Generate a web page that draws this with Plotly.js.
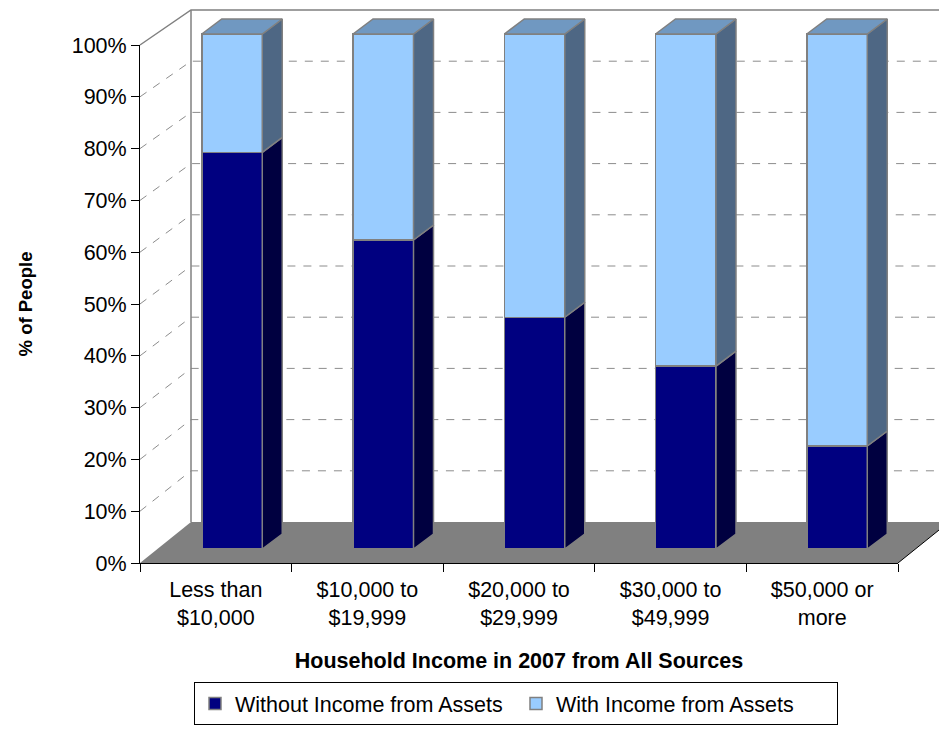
<!DOCTYPE html>
<html>
<head>
<meta charset="utf-8">
<script src="https://cdn.plot.ly/plotly-3.0.1.min.js"></script>
<style>html,body{margin:0;padding:0;background:#fff;}#chart{width:939px;height:732px;}</style>
</head>
<body>
<div id="chart"></div>
<script>
// ---- data ----
const categories = ['Less than<br>$10,000', '$10,000 to<br>$19,999', '$20,000 to<br>$29,999', '$30,000 to<br>$49,999', '$50,000 or<br>more'];
const withoutAssets = [77, 60, 45, 35.5, 20];
const withAssets = [23, 40, 55, 64.5, 80];
const seriesNames = ['Without Income from Assets', 'With Income from Assets'];
const yTicks = [0, 10, 20, 30, 40, 50, 60, 70, 80, 90, 100];

// ---- geometry (pixels) ----
const W = 939, H = 732;
const px = x => x / W;
const py = y => 1 - y / H;
const xFront = 140, xRightFront = 898, xBack = 191;
const yF0 = 563, yF100 = 45;      // front (axis) scale
const yB0 = 522, yB100 = 10;      // back wall scale
const depthX = xBack - xFront, depthY = yF0 - yB0;
const fY = v => yF0 - (yF0 - yF100) * v / 100;
const bY = v => yB0 - (yB0 - yB100) * v / 100;

// bars subplot scale
const barPitch = 151.25, barCenter0 = 232;
const barY0 = 549, barYPerUnit = 5.15;
const barTopRange = 105;
const bw = 0.2;                       // half width in category units
const dX = 20 / barPitch;             // bar depth in x units
const dY = 15 / barYPerUnit;          // bar depth in y units

const idx = categories.map((c, i) => i);

const colDark = '#000080', colLight = '#99CCFF';
const colDarkSide = '#000040', colLightSide = '#4E6784', colTop = '#7098C1';
const edge = '#808080';

// face polygons built from the data
function sidePoly(lo, hi) {
  const xs = [], ys = [];
  idx.forEach(i => {
    const a = lo[i], b = hi[i];
    xs.push(i + bw, i + bw + dX, i + bw + dX, i + bw, i + bw, null);
    ys.push(a, a + dY, b + dY, b, a, null);
  });
  return {xs, ys};
}
const zeros = idx.map(() => 0);
const totals = idx.map(i => withoutAssets[i] + withAssets[i]);
const darkSide = sidePoly(zeros, withoutAssets);
const lightSide = sidePoly(withoutAssets, totals);
const topX = [], topY = [];
idx.forEach(i => {
  const t = totals[i];
  topX.push(i - bw, i + bw, i + bw + dX, i - bw + dX, i - bw, null);
  topY.push(t, t, t + dY, t + dY, t, null);
});

const font = 'Liberation Sans, Arial, sans-serif';
const fs = 21.5;

const traces = [
  {type: 'scatter', x: categories, y: withoutAssets, xaxis: 'x', yaxis: 'y', mode: 'markers',
   marker: {opacity: 0}, hoverinfo: 'skip', showlegend: false},
  {type: 'bar', name: seriesNames[0], x: idx, y: withoutAssets, xaxis: 'x2', yaxis: 'y2', width: 2 * bw,
   marker: {color: colDark, line: {color: edge, width: 1.5}}, customdata: categories,
   hovertemplate: '%{customdata}: %{y}%<extra></extra>'},
  {type: 'bar', name: seriesNames[1], x: idx, y: withAssets, xaxis: 'x2', yaxis: 'y2', width: 2 * bw,
   marker: {color: colLight, line: {color: edge, width: 1.5}}, customdata: categories,
   hovertemplate: '%{customdata}: %{y}%<extra></extra>'},
  {type: 'scatter', x: darkSide.xs, y: darkSide.ys, xaxis: 'x2', yaxis: 'y2', mode: 'lines', fill: 'toself',
   fillcolor: colDarkSide, line: {color: edge, width: 1.5}, hoverinfo: 'skip', showlegend: false},
  {type: 'scatter', x: lightSide.xs, y: lightSide.ys, xaxis: 'x2', yaxis: 'y2', mode: 'lines', fill: 'toself',
   fillcolor: colLightSide, line: {color: edge, width: 1.5}, hoverinfo: 'skip', showlegend: false},
  {type: 'scatter', x: topX, y: topY, xaxis: 'x2', yaxis: 'y2', mode: 'lines', fill: 'toself',
   fillcolor: colTop, line: {color: edge, width: 1.5}, hoverinfo: 'skip', showlegend: false}
];

// frame shapes: walls, floor, gridlines
const shapes = [];
const P = (x, y) => px(x).toFixed(5) + ',' + py(y).toFixed(5);
shapes.push({type: 'path', xref: 'paper', yref: 'paper', layer: 'below',
  path: 'M' + P(xFront, yF0) + 'L' + P(xRightFront, yF0) + 'L' + P(xRightFront + depthX, yB0) + 'L' + P(xBack, yB0) + 'Z',
  fillcolor: '#808080', line: {width: 0}});
shapes.push({type: 'line', xref: 'paper', yref: 'paper', layer: 'below',
  x0: px(xRightFront), y0: py(yF0), x1: px(xRightFront + depthX), y1: py(yB0), line: {color: '#000', width: 1}});
yTicks.filter(v => v > 0 && v < 100).forEach(v => {
  shapes.push({type: 'path', xref: 'paper', yref: 'paper', layer: 'below',
    path: 'M' + P(xFront, fY(v)) + 'L' + P(xBack, bY(v)) + 'L' + P(W + 20, bY(v)),
    line: {color: '#8c8c8c', width: 1, dash: '8px,8px'}});
});
shapes.push({type: 'path', xref: 'paper', yref: 'paper', layer: 'below',
  path: 'M' + P(xFront, fY(100)) + 'L' + P(xBack, bY(100)) + 'L' + P(W + 20, bY(100)),
  line: {color: '#808080', width: 1.5}});
shapes.push({type: 'line', xref: 'paper', yref: 'paper', layer: 'below',
  x0: px(xBack), y0: py(bY(100)), x1: px(xBack), y1: py(yB0), line: {color: '#808080', width: 1.5}});

const layout = {
  width: W, height: H,
  margin: {l: 0, r: 0, t: 0, b: 0},
  paper_bgcolor: '#fff', plot_bgcolor: 'rgba(0,0,0,0)',
  font: {family: font, color: '#000', size: fs},
  barmode: 'stack',
  showlegend: true,
  legend: {orientation: 'h', x: px(194), y: py(682), xanchor: 'left', yanchor: 'top',
           bordercolor: '#000', borderwidth: 1, font: {family: font, size: fs, color: '#000'},
           traceorder: 'normal', bgcolor: '#fff', entrywidth: 276, entrywidthmode: 'pixels'},
  xaxis: {domain: [px(xFront), px(xRightFront)], anchor: 'y', type: 'category',
          categoryorder: 'array', categoryarray: categories, range: [-0.5, 4.5],
          showline: true, linecolor: '#000', linewidth: 1, ticks: 'outside', ticklen: 8, tickcolor: '#000',
          tickson: 'boundaries', showgrid: false, zeroline: false, fixedrange: true,
          ticklabelstandoff: 7,
          tickfont: {family: font, size: fs, color: '#000'},
          title: {text: '<b>Household Income in 2007 from All Sources</b>', font: {family: font, size: fs, color: '#000'}, standoff: 24}},
  yaxis: {domain: [py(yF0), py(yF100)], anchor: 'x', range: [0, 100],
          tickmode: 'array', tickvals: yTicks, ticktext: yTicks.map(v => v + '%'),
          showline: true, linecolor: '#000', linewidth: 1, ticks: 'outside', ticklen: 8, tickcolor: '#000',
          showgrid: false, zeroline: false, fixedrange: true,
          tickfont: {family: font, size: fs, color: '#000'},
          title: {text: '<b>% of People</b>', font: {family: font, size: 18.5, color: '#000'}, standoff: 34}},
  xaxis2: {domain: [px(barCenter0 - barPitch / 2), px(barCenter0 + 4.5 * barPitch)], anchor: 'y2',
           range: [-0.5, 4.5], visible: false, fixedrange: true},
  yaxis2: {domain: [py(barY0), py(barY0 - barYPerUnit * barTopRange)], anchor: 'x2',
           range: [0, barTopRange], visible: false, fixedrange: true},
  shapes: shapes
};

Plotly.newPlot('chart', traces, layout, {displayModeBar: false});
</script>
</body>
</html>
